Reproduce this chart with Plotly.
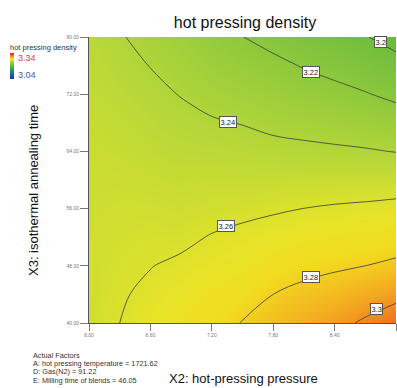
import plotly.graph_objects as go

# X2: hot-pressing pressure (grid columns) and X3: isothermal annealing time (grid rows)
x2_pressure = [6.0, 6.3, 6.6, 6.9, 7.2, 7.5, 7.8, 8.1, 8.4, 8.7, 9.0]
x3_time = [40, 44, 48, 52, 56, 60, 64, 68, 72, 76, 80]

# predicted hot pressing density, one row per x3_time value
density = [
    [3.2553, 3.2600, 3.2650, 3.2700, 3.2750, 3.2805, 3.2855, 3.2905, 3.2955, 3.3023, 3.3093],
    [3.2550, 3.2590, 3.2620, 3.2660, 3.2705, 3.2740, 3.2800, 3.2835, 3.2866, 3.2910, 3.2958],
    [3.2547, 3.2577, 3.2597, 3.2620, 3.2655, 3.2680, 3.2730, 3.2761, 3.2781, 3.2800, 3.2828],
    [3.2543, 3.2563, 3.2575, 3.2575, 3.2607, 3.2635, 3.2657, 3.2681, 3.2698, 3.2712, 3.2728],
    [3.2537, 3.2548, 3.2550, 3.2538, 3.2555, 3.2565, 3.2584, 3.2601, 3.2614, 3.2624, 3.2638],
    [3.2530, 3.2530, 3.2520, 3.2505, 3.2515, 3.2510, 3.2515, 3.2518, 3.2521, 3.2523, 3.2527],
    [3.2520, 3.2510, 3.2490, 3.2470, 3.2465, 3.2455, 3.2444, 3.2431, 3.2422, 3.2412, 3.2396],
    [3.2510, 3.2490, 3.2460, 3.2435, 3.2413, 3.2395, 3.2365, 3.2351, 3.2333, 3.2312, 3.2282],
    [3.2495, 3.2465, 3.2430, 3.2395, 3.2355, 3.2330, 3.2300, 3.2270, 3.2243, 3.2209, 3.2165],
    [3.2480, 3.2440, 3.2397, 3.2355, 3.2305, 3.2268, 3.2235, 3.2191, 3.2153, 3.2110, 3.2055],
    [3.2460, 3.2410, 3.2360, 3.2310, 3.2253, 3.2202, 3.2153, 3.2104, 3.2057, 3.2008, 3.1941],
]

contour_levels = [3.20, 3.22, 3.24, 3.26, 3.28, 3.30]
contour_label_text = ["3.2", "3.22", "3.24", "3.26", "3.28", "3.3"]
# where each contour label sits (x2, x3)
label_x2 = [8.853, 8.169, 7.358, 7.339, 8.169, 8.805]
label_x3 = [79.3, 75.1, 68.1, 53.57, 46.43, 41.96]

x_ticks = [6.00, 6.60, 7.20, 7.80, 8.40, 9.00]
y_ticks = [40.00, 48.00, 56.00, 64.00, 72.00, 80.00]

color_min, color_max = 3.04, 3.34
factor_lines = [
    "Actual Factors",
    "A: hot pressing temperature = 1721.62",
    "D: Gas(N2) = 91.22",
    "E: Milling time of blends = 46.05",
]

FONT = "Liberation Sans, Arial, sans-serif"
W, H = 397, 388
L, R, T, B = 89, 1, 37, 65
PW, PH = W - L - R, H - T - B

def px_x(px):
    return (px - L) / PW

def px_y(py):
    return (H - B - py) / PH

colorscale = [
    [0.0, "#1a2fc8"],
    [0.3, "#1e8c6e"],
    [0.5, "#62b840"],
    [0.6, "#8cc83c"],
    [0.683, "#b8d838"],
    [0.75, "#e8e428"],
    [0.785, "#f2dc20"],
    [0.84, "#f4aa20"],
    [0.9, "#f06e20"],
    [1.0, "#e82020"],
]

fig = go.Figure()
fig.add_trace(go.Heatmap(
    x=x2_pressure, y=x3_time, z=density,
    zmin=color_min, zmax=color_max, colorscale=colorscale,
    zsmooth="best", hoverinfo="skip",
    colorbar=dict(
        xref="paper", yref="paper",
        x=px_x(10), xanchor="left", y=px_y(53), yanchor="top",
        lenmode="pixels", len=26, thickness=4,
        xpad=0, ypad=0, outlinewidth=0,
        showticklabels=False, ticks="",
    ),
))
fig.add_trace(go.Contour(
    x=x2_pressure, y=x3_time, z=density,
    contours=dict(start=contour_levels[0], end=contour_levels[-1],
                  size=0.02, coloring="none", showlabels=False),
    line=dict(color="#3a3a3a", width=0.8, smoothing=1.0),
    showscale=False, hoverinfo="skip",
))

annotations = []
for t, lx, ly in zip(contour_label_text, label_x2, label_x3):
    annotations.append(dict(
        x=lx, y=ly, xref="x", yref="y", text=t, showarrow=False,
        font=dict(family=FONT, size=7.5, color="#222"),
        bgcolor="white", bordercolor="#555", borderwidth=1, borderpad=0.5,
    ))

# colour legend texts
annotations += [
    dict(x=px_x(8), y=px_y(47), xref="paper", yref="paper", text="hot pressing density",
         showarrow=False, xanchor="left", yanchor="middle",
         font=dict(family=FONT, size=7.5, color="#333")),
    dict(x=px_x(16), y=px_y(58), xref="paper", yref="paper", text=f"{color_max:.2f}",
         showarrow=False, xanchor="left", yanchor="middle",
         font=dict(family=FONT, size=9, color="#e83838")),
    dict(x=px_x(16), y=px_y(75), xref="paper", yref="paper", text=f"{color_min:.2f}",
         showarrow=False, xanchor="left", yanchor="middle",
         font=dict(family=FONT, size=9, color="#3a5ab8")),
]

# axis titles
annotations += [
    dict(x=px_x(33), y=px_y(191), xref="paper", yref="paper",
         text="X3: isothermal annealing time", textangle=-90, showarrow=False,
         xanchor="center", yanchor="middle",
         font=dict(family=FONT, size=13, color="#111")),
    dict(x=px_x(243), y=px_y(378), xref="paper", yref="paper",
         text="X2: hot-pressing pressure", showarrow=False,
         xanchor="center", yanchor="middle",
         font=dict(family=FONT, size=13, color="#111")),
]

for i, line in enumerate(factor_lines):
    annotations.append(dict(
        x=px_x(31), y=px_y(355.5 + i * 8.2), xref="paper", yref="paper",
        text=line, showarrow=False, xanchor="left", yanchor="middle",
        font=dict(family=FONT, size=7.3, color="#333"),
    ))

fig.update_layout(
    width=W, height=H,
    margin=dict(l=L, r=R, t=T, b=B, autoexpand=False),
    paper_bgcolor="white", plot_bgcolor="white",
    title=dict(text="hot pressing density", x=px_x(245), xref="paper",
               y=1 - 22 / H, yref="container", xanchor="center", yanchor="middle",
               font=dict(family=FONT, size=16, color="#111")),
    showlegend=False,
    annotations=annotations,
    xaxis=dict(range=[6, 9], tickvals=x_ticks, ticktext=[f"{v:.2f}" for v in x_ticks],
               ticks="outside", ticklen=7, tickcolor="#777", tickwidth=1,
               tickfont=dict(family=FONT, size=5, color="#777"),
               showline=True, linecolor="#555", linewidth=1,
               showgrid=False, zeroline=False),
    yaxis=dict(range=[40, 80], tickvals=y_ticks, ticktext=[f"{v:.2f}" for v in y_ticks],
               ticks="outside", ticklen=8, tickcolor="#777", tickwidth=1,
               tickfont=dict(family=FONT, size=5, color="#777"),
               showline=True, linecolor="#555", linewidth=1,
               showgrid=False, zeroline=False),
)

fig.write_html("out.html", config={"displayModeBar": False},
               post_script="document.body.style.margin='0';")
